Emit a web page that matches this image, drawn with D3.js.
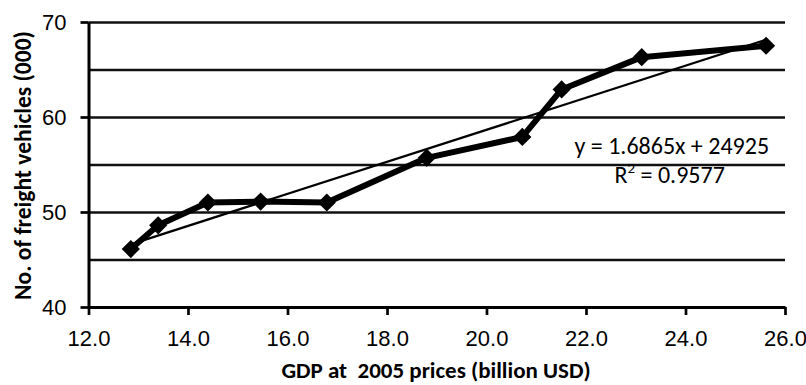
<!DOCTYPE html>
<html>
<head>
<meta charset="utf-8">
<script src="https://cdn.jsdelivr.net/npm/d3@7"></script>
<style>
  html, body { margin: 0; padding: 0; background: #fff; }
  svg { display: block; font-family: Carlito, Calibri, Lato, "Open Sans", sans-serif; }
</style>
</head>
<body>
<svg id="chart" width="806" height="385"></svg>
<script>
// GDP at 2005 prices (billion USD) and freight vehicles (thousands)
const gdp      = [12.85, 13.40, 14.40, 15.46, 16.79, 18.80, 20.72, 21.51, 23.12, 25.62];
const vehicles = [46.1, 48.6, 51.0, 51.1, 51.0, 55.7, 57.9, 62.9, 66.3, 67.5];

const xTicks = [12, 14, 16, 18, 20, 22, 24, 26];
const yTicks = [40, 50, 60, 70];
const gridValues = [45, 50, 55, 60, 65, 70];

// Linear trend as reported in raw units (vehicles vs. million USD)
const trendSlope = 1.6865;
const trendIntercept = 24925;
const trendLabel = "y = 1.6865x + 24925";
const r2Label = "0.9577";

const xTitle = "GDP at  2005 prices (billion USD)";
const yTitle = "No. of freight vehicles (000)";

const svg = d3.select("#chart");
const margin = { left: 88.5, right: 21, top: 22, bottom: 78 };
const W = 806, H = 385;
const iw = W - margin.left - margin.right;
const ih = H - margin.top - margin.bottom;

const x = d3.scaleLinear().domain([12, 26]).range([0, iw]);
const y = d3.scaleLinear().domain([40, 70]).range([ih, 0]);

const g = svg.append("g").attr("transform", `translate(${margin.left},${margin.top})`);

// horizontal gridlines every 5
const grid = g.append("g")
  .call(d3.axisLeft(y).tickValues(gridValues).tickSize(-iw).tickFormat(""));
grid.select(".domain").remove();
grid.selectAll("line").attr("stroke", "#111").attr("stroke-width", 2.7);

// y axis
const yAxis = g.append("g")
  .call(d3.axisLeft(y).tickValues(yTicks).tickSize(8).tickSizeOuter(0).tickPadding(14));
yAxis.select(".domain").attr("stroke", "#000").attr("stroke-width", 3);
yAxis.selectAll("line").attr("stroke", "#000").attr("stroke-width", 2.7);
yAxis.selectAll("text").attr("font-size", 22).attr("fill", "#000").attr("font-family", "inherit");

// x axis
const xAxis = g.append("g").attr("transform", `translate(0,${ih})`)
  .call(d3.axisBottom(x).tickValues(xTicks).tickSize(8).tickSizeOuter(0)
    .tickPadding(15).tickFormat(d3.format(".1f")));
xAxis.select(".domain").attr("stroke", "#000").attr("stroke-width", 3);
xAxis.selectAll("line").attr("stroke", "#000").attr("stroke-width", 2.7);
xAxis.selectAll("text").attr("font-size", 22).attr("fill", "#000").attr("font-family", "inherit");

// trend line over the data range (equation in vehicles vs. million USD)
const xr = d3.extent(gdp);
const trendPts = xr.map(v => [v, (trendSlope * v * 1000 + trendIntercept) / 1000]);
g.append("path")
  .datum(trendPts)
  .attr("fill", "none")
  .attr("stroke", "#000")
  .attr("stroke-width", 2.3)
  .attr("d", d3.line().x(d => x(d[0])).y(d => y(d[1])));

// data series
const pts = gdp.map((v, i) => [v, vehicles[i]]);
g.append("path")
  .datum(pts)
  .attr("fill", "none")
  .attr("stroke", "#000")
  .attr("stroke-width", 6)
  .attr("stroke-linejoin", "round")
  .attr("d", d3.line().x(d => x(d[0])).y(d => y(d[1])));

const diamond = d3.symbol().type(d3.symbolSquare).size(165);
g.selectAll(".marker").data(pts).join("path")
  .attr("class", "marker")
  .attr("d", diamond)
  .attr("transform", d => `translate(${x(d[0])},${y(d[1])}) rotate(45)`)
  .attr("fill", "#000");

// regression label
g.append("text")
  .attr("x", x(25.68)).attr("y", y(56.14))
  .attr("text-anchor", "end")
  .attr("font-size", 24)
  .text(trendLabel);
const r2 = g.append("text")
  .attr("x", x(24.79)).attr("y", y(53.08))
  .attr("text-anchor", "end")
  .attr("font-size", 24);
r2.append("tspan").text("R");
r2.append("tspan").attr("font-size", 15).attr("dy", -10).text("2");
r2.append("tspan").attr("dy", 10).text(" = " + r2Label);

// axis titles
svg.append("text")
  .attr("x", 436)
  .attr("y", 378)
  .attr("text-anchor", "middle")
  .attr("font-size", 23)
  .attr("font-weight", "bold")
  .attr("xml:space", "preserve")
  .style("white-space", "pre")
  .text(xTitle);

svg.append("text")
  .attr("transform", `translate(31,165.5) rotate(-90)`)
  .attr("text-anchor", "middle")
  .attr("font-size", 23.5)
  .attr("font-weight", "bold")
  .text(yTitle);
</script>
</body>
</html>
